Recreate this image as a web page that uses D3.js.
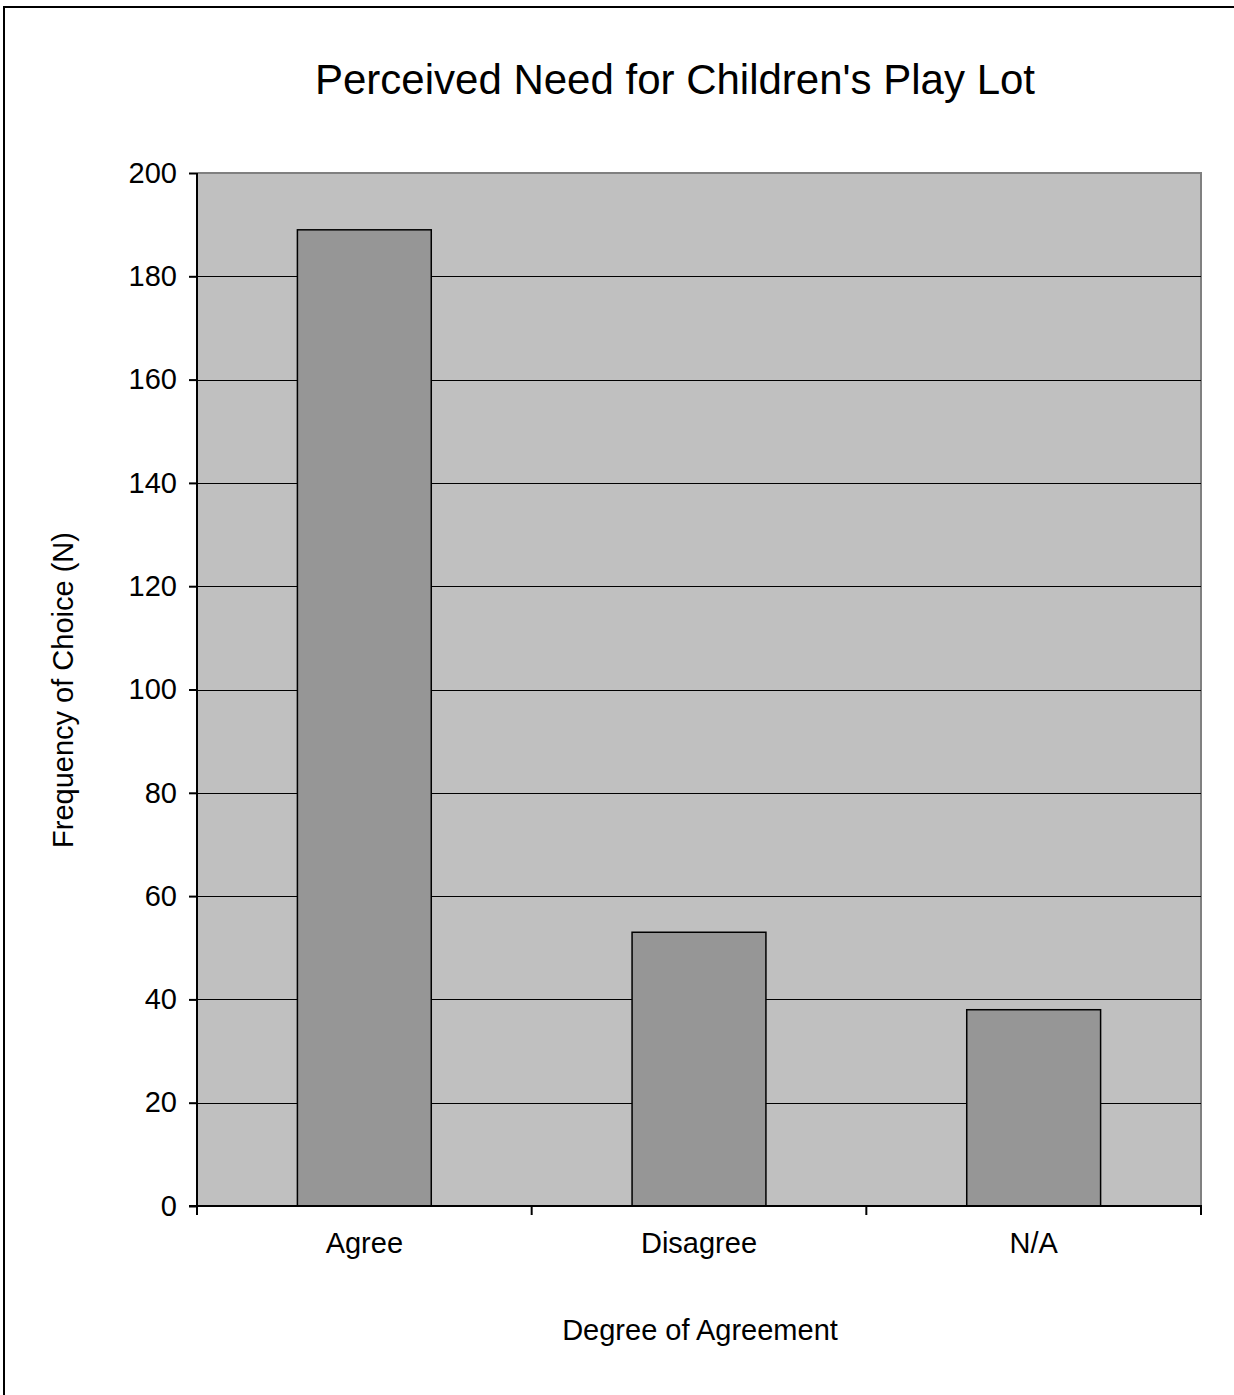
<!DOCTYPE html>
<html><head><meta charset="utf-8">
<script src="https://cdn.jsdelivr.net/npm/d3@7"></script>
<style>html,body{margin:0;padding:0;background:#fff;}svg{display:block;font-family:"Liberation Sans",Arial,sans-serif;}</style>
</head><body>
<svg id="c" width="1234" height="1395"></svg>
<script>
const categories = ["Agree", "Disagree", "N/A"];
const values = [189, 53, 38];
const yTicks = [0, 20, 40, 60, 80, 100, 120, 140, 160, 180, 200];
const titleText = "Perceived Need for Children's Play Lot";
const xTitle = "Degree of Agreement";
const yTitle = "Frequency of Choice (N)";

const svg = d3.select("#c");
const L = 197, R = 1201, T = 173, B = 1206;

// frame (left & top only visible)
svg.append("line").attr("x1",4).attr("x2",4).attr("y1",7).attr("y2",1395).attr("stroke","#000").attr("stroke-width",2);
svg.append("line").attr("x1",3).attr("x2",1234).attr("y1",7).attr("y2",7).attr("stroke","#000").attr("stroke-width",2);

const x = d3.scaleBand().domain(categories).range([L, R]).paddingInner(0.6).paddingOuter(0.3);
const y = d3.scaleLinear().domain([0, 200]).range([B, T]);

svg.append("rect").attr("x",L).attr("y",T).attr("width",R-L).attr("height",B-T).attr("fill","#c0c0c0");
// plot top/right border
svg.append("path").attr("d",`M${L},${T}H${R}V${B}`).attr("fill","none").attr("stroke","#808080").attr("stroke-width",2);

// gridlines
svg.append("g").selectAll("line").data(yTicks.filter(d=>d>0 && d<200)).join("line")
  .attr("x1",L).attr("x2",R).attr("y1",d=>Math.round(y(d))+0.5).attr("y2",d=>Math.round(y(d))+0.5)
  .attr("stroke","#000").attr("stroke-width",1);

// bars
svg.append("g").selectAll("rect").data(values).join("rect")
  .attr("x",(d,i)=>x(categories[i])).attr("width",x.bandwidth())
  .attr("y",d=>y(d)).attr("height",d=>B-y(d))
  .attr("fill","#969696").attr("stroke","#000").attr("stroke-width",1.5);

// y axis
const yAxis = svg.append("g").attr("transform",`translate(${L},0)`)
  .call(d3.axisLeft(y).tickValues(yTicks).tickSize(8).tickPadding(12).tickFormat(d3.format("d")));
yAxis.select(".domain").attr("stroke","#000").attr("stroke-width",2).attr("d",`M0,${T}V${B}`);
yAxis.selectAll(".tick line").attr("stroke","#000").attr("stroke-width",2);
yAxis.selectAll("text").attr("font-size",29).attr("fill","#000").attr("font-family","Liberation Sans, Arial, sans-serif");

// x axis with ticks at band boundaries
const xg = svg.append("g").attr("transform",`translate(0,${B})`);
xg.append("line").attr("x1",L-8).attr("x2",R+1).attr("y1",0).attr("y2",0).attr("stroke","#000").attr("stroke-width",2);
const step = (R-L)/categories.length;
const bounds = d3.range(categories.length+1).map(i=>L+i*step);
xg.selectAll("line.t").data(bounds).join("line").attr("class","t")
  .attr("x1",d=>d).attr("x2",d=>d).attr("y1",0).attr("y2",9).attr("stroke","#000").attr("stroke-width",2);
xg.selectAll("text").data(categories).join("text")
  .attr("x",d=>x(d)+x.bandwidth()/2).attr("y",47).attr("text-anchor","middle")
  .attr("font-size",29).attr("fill","#000").text(d=>d);

// titles
svg.append("text").attr("x",675).attr("y",94).attr("text-anchor","middle").attr("font-size",42).text(titleText);
svg.append("text").attr("x",700).attr("y",1340).attr("text-anchor","middle").attr("font-size",29).text(xTitle);
svg.append("text").attr("transform","translate(73,690) rotate(-90)").attr("text-anchor","middle").attr("font-size",29).text(yTitle);
</script>
</body></html>
